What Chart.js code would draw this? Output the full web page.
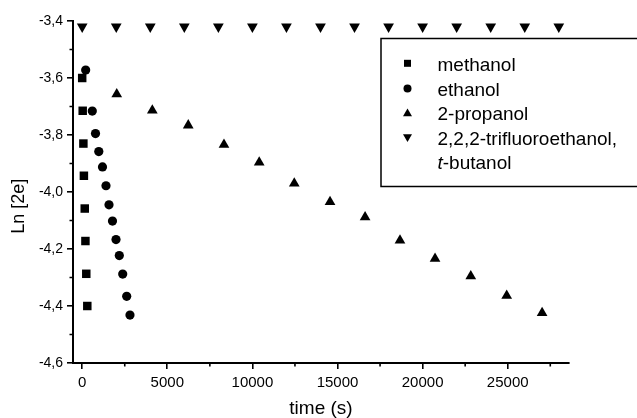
<!DOCTYPE html>
<html><head><meta charset="utf-8">
<script src="https://cdn.jsdelivr.net/npm/chart.js@4.4.1/dist/chart.umd.min.js"></script>
<style>html,body{margin:0;padding:0;background:#fff}#wrap{position:relative;width:637px;height:418px}</style>
</head><body><div id="wrap"><canvas id="c" width="637" height="418"></canvas></div>
<script>
// ---- data ----
const methanolTime = [0, 30, 70, 100, 150, 190, 240, 300];
const methanolLn   = [-3.600, -3.715, -3.830, -3.943, -4.058, -4.172, -4.287, -4.400];

const ethanolTime = [205, 593, 781, 975, 1193, 1398, 1575, 1780, 1986, 2180, 2380, 2615, 2808];
const ethanolLn   = [-3.572, -3.716, -3.795, -3.858, -3.912, -3.978, -4.045, -4.102, -4.167, -4.223, -4.288, -4.366, -4.432];

const propanolTime = [2030, 4120, 6230, 8330, 10400, 12460, 14560, 16620, 18670, 20730, 22830, 24940, 27020];
const propanolLn   = [-3.657, -3.714, -3.766, -3.834, -3.896, -3.970, -4.035, -4.088, -4.170, -4.234, -4.295, -4.364, -4.424];

const tfeTime = [0, 2000, 4000, 6000, 8000, 10000, 12000, 14000, 16000, 18000, 20000, 22000, 24000, 26000, 28000];
const tfeLn   = [-3.42, -3.42, -3.42, -3.42, -3.42, -3.42, -3.42, -3.42, -3.42, -3.42, -3.42, -3.42, -3.42, -3.42, -3.42];

const seriesNames = ['methanol', 'ethanol', '2-propanol', '2,2,2-trifluoroethanol,'];
const extraLegendLine = ['t', '-butanol'];

const xTickValues  = [0, 5000, 10000, 15000, 20000, 25000];
const xMinorValues = [2500, 7500, 12500, 17500, 22500, 27500];
const yTickValues  = [-4.6, -4.4, -4.2, -4.0, -3.8, -3.6, -3.4];
const yMinorValues = [-4.5, -4.3, -4.1, -3.9, -3.7, -3.5];

const xTitle = 'time (s)';
const yTitle = 'Ln [2e]';

// ---- build ----
const FONT = "'Liberation Sans', Arial, sans-serif";
Chart.defaults.font.family = FONT;
Chart.defaults.color = '#000';

function pts(xs, ys) { return xs.map((x, i) => ({x: x, y: ys[i]})); }

const minorTicks = {
  id: 'minorTicks',
  afterDraw(chart) {
    const ctx = chart.ctx, xs = chart.scales.x, ys = chart.scales.y;
    ctx.save();
    ctx.strokeStyle = '#000';
    ctx.lineWidth = 1.6;
    ctx.beginPath();
    xMinorValues.forEach(v => {
      const p = xs.getPixelForValue(v);
      ctx.moveTo(p, xs.top); ctx.lineTo(p, xs.top + 3.5);
    });
    yMinorValues.forEach(v => {
      const p = ys.getPixelForValue(v);
      ctx.moveTo(ys.right, p); ctx.lineTo(ys.right - 3.5, p);
    });
    ctx.stroke();
    ctx.restore();
  }
};

const yTitlePlugin = {
  id: 'yTitle',
  afterDraw(chart) {
    const ctx = chart.ctx, ys = chart.scales.y;
    ctx.save();
    ctx.fillStyle = '#000';
    ctx.font = '18px ' + FONT;
    ctx.textAlign = 'center';
    ctx.textBaseline = 'middle';
    ctx.translate(19, ys.getPixelForValue(-4.05));
    ctx.rotate(-Math.PI / 2);
    ctx.fillText(yTitle, 0, 0);
    ctx.restore();
  }
};

const legendPlugin = {
  id: 'boxLegend',
  afterDraw(chart) {
    const ctx = chart.ctx;
    ctx.save();
    ctx.strokeStyle = '#000';
    ctx.lineWidth = 1.5;
    ctx.strokeRect(381, 38.5, 270, 148);
    ctx.fillStyle = '#000';
    const sx = 407.5;
    ctx.fillRect(sx - 3.5, 63.3 - 3.5, 7, 7);
    ctx.beginPath(); ctx.arc(sx, 88.5, 4, 0, Math.PI * 2); ctx.fill();
    ctx.beginPath(); ctx.moveTo(sx, 108.5); ctx.lineTo(sx + 4.5, 116.3); ctx.lineTo(sx - 4.5, 116.3); ctx.closePath(); ctx.fill();
    ctx.beginPath(); ctx.moveTo(sx - 4.5, 134.2); ctx.lineTo(sx + 4.5, 134.2); ctx.lineTo(sx, 142); ctx.closePath(); ctx.fill();
    ctx.font = '19px ' + FONT;
    ctx.textAlign = 'left';
    ctx.textBaseline = 'alphabetic';
    const tx = 437.5;
    const baselines = [71, 95.5, 120, 144.5];
    seriesNames.forEach((s, i) => ctx.fillText(s, tx, baselines[i]));
    ctx.font = 'italic 19px ' + FONT;
    ctx.fillText(extraLegendLine[0], tx, 169);
    const w = ctx.measureText(extraLegendLine[0]).width;
    ctx.font = '19px ' + FONT;
    ctx.fillText(extraLegendLine[1], tx + w, 169);
    ctx.restore();
  }
};

const common = {showLine: false, backgroundColor: '#000', borderColor: '#000', borderWidth: 0};

new Chart(document.getElementById('c'), {
  type: 'scatter',
  data: {
    datasets: [
      Object.assign({label: seriesNames[0], data: pts(methanolTime, methanolLn), pointStyle: 'rect', pointRadius: 6}, common),
      Object.assign({label: seriesNames[1], data: pts(ethanolTime, ethanolLn), pointStyle: 'circle', pointRadius: 4.6}, common),
      Object.assign({label: seriesNames[2], data: pts(propanolTime, propanolLn), pointStyle: 'triangle', pointRadius: 6.2}, common),
      Object.assign({label: seriesNames[3] + ' t-butanol', data: pts(tfeTime, tfeLn), pointStyle: 'triangle', pointRotation: 180, pointRadius: 6.2}, common)
    ]
  },
  options: {
    responsive: false,
    animation: false,
    devicePixelRatio: 1,
    layout: {padding: {top: 21, right: 68, bottom: 0, left: 0}},
    plugins: {legend: {display: false}, tooltip: {enabled: false}},
    scales: {
      x: {
        type: 'linear', min: -540, max: 28600,
        afterBuildTicks: s => { s.ticks = xTickValues.map(v => ({value: v})); },
        afterFit: s => { s.height = 55; },
        ticks: {autoSkip: false, maxRotation: 0, padding: 5, font: {size: 15}, color: '#000', callback: v => String(v)},
        grid: {display: true, drawOnChartArea: false, drawTicks: true, tickLength: 6, color: '#000', lineWidth: 1.6},
        border: {display: true, color: '#000', width: 2},
        title: {display: true, text: xTitle, font: {size: 19, lineHeight: 1}, padding: {top: 0, bottom: 0}, color: '#000'}
      },
      y: {
        type: 'linear', min: -4.6, max: -3.4,
        afterBuildTicks: s => { s.ticks = yTickValues.map(v => ({value: v})); },
        afterFit: s => { s.width = 73; },
        ticks: {autoSkip: false, padding: 4, font: {size: 14}, color: '#000', callback: v => v.toFixed(1).replace('.', ',')},
        grid: {display: true, drawOnChartArea: false, drawTicks: true, tickLength: 6, color: '#000', lineWidth: 1.6},
        border: {display: true, color: '#000', width: 2}
      }
    }
  },
  plugins: [minorTicks, yTitlePlugin, legendPlugin]
});
</script>
</body></html>
